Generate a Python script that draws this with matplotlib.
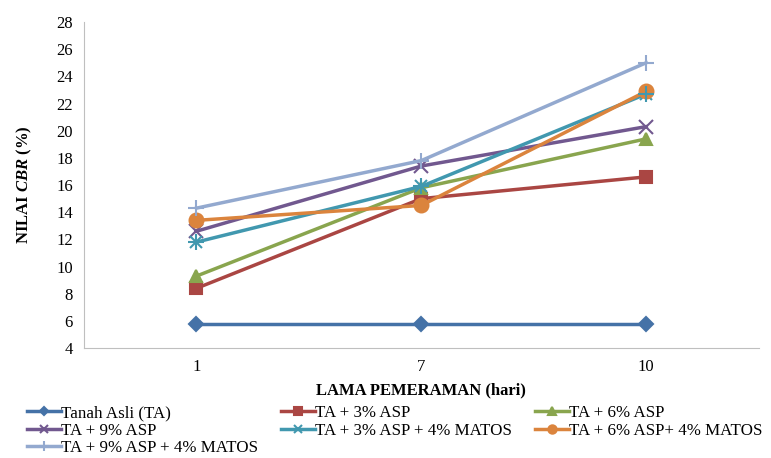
import numpy as np
import matplotlib.pyplot as plt

plt.rcParams['font.family'] = 'Liberation Serif'
plt.rcParams['mathtext.fontset'] = 'custom'
plt.rcParams['mathtext.it'] = 'Liberation Serif:italic:bold'
plt.rcParams['mathtext.rm'] = 'Liberation Serif:bold'

# lama pemeraman (hari)
days = ['1', '7', '10']

# nilai CBR (%)
tanah_asli = [5.8, 5.8, 5.8]
asp3 = [8.4, 15.0, 16.6]
asp6 = [9.3, 15.8, 19.4]
asp9 = [12.6, 17.4, 20.3]
asp3_matos = [11.8, 15.9, 22.7]
asp6_matos = [13.4, 14.5, 22.9]
asp9_matos = [14.3, 17.8, 25.0]

labels = ['Tanah Asli (TA)', 'TA + 3% ASP', 'TA + 6% ASP', 'TA + 9% ASP',
          'TA + 3% ASP + 4% MATOS', 'TA + 6% ASP+ 4% MATOS',
          'TA + 9% ASP + 4% MATOS']
colors = ['#4572A7', '#AA4643', '#89A54E', '#71588F', '#4198AF', '#DB843D', '#93A9CF']
markers = ['D', 's', '^', 'x', 'x', 'o', '+']
sizes = [7, 9, 9, 10, 9, 10, 11]

fig = plt.figure(figsize=(7.71, 4.58), dpi=100)
ax = fig.add_axes([0.109, 0.240, 0.875, 0.712])

x = np.arange(len(days))
series = [tanah_asli, asp3, asp6, asp9, asp3_matos, asp6_matos, asp9_matos]
handles = []
for i, s in enumerate(series):
    h, = ax.plot(x, s, color=colors[i], lw=2.5, marker=markers[i], ms=sizes[i],
                 mew=1.5, label=labels[i])
    handles.append(h)
# asterisk look for the teal series: add a plus on top
ax.plot(x, asp3_matos, ls='none', marker='+', ms=11, mew=1.5, color=colors[4])

ax.set_xlim(-0.5, 2.5)
ax.set_ylim(4, 28)
ax.set_yticks(np.arange(4, 29, 2))
ax.set_xticks(x)
ax.set_xticklabels(days)
ax.tick_params(length=0, labelsize=12, pad=8)
for sp in ['top', 'right']:
    ax.spines[sp].set_visible(False)
for sp in ['left', 'bottom']:
    ax.spines[sp].set_color('#BFBFBF')

ax.set_xlabel('LAMA PEMERAMAN (hari)', fontsize=12, fontweight='bold', labelpad=5)
ax.set_ylabel(r'NILAI $\mathit{CBR}$ (%)', fontsize=12, fontweight='bold', labelpad=16)

# legend: three columns placed like the original
cols = [[0, 3, 6], [1, 4], [2, 5]]
col_x = [27, 281, 535]
for idx, cx in zip(cols, col_x):
    leg = fig.legend([handles[i] for i in idx], [labels[i] for i in idx],
                     loc='upper left', bbox_to_anchor=(cx / 771, 1 - 405 / 458),
                     frameon=False, fontsize=12.2, handlelength=2.0,
                     handletextpad=0.0, labelspacing=0.1, borderpad=0,
                     borderaxespad=0, markerscale=0.6)

fig.savefig('out.png', dpi=100)
